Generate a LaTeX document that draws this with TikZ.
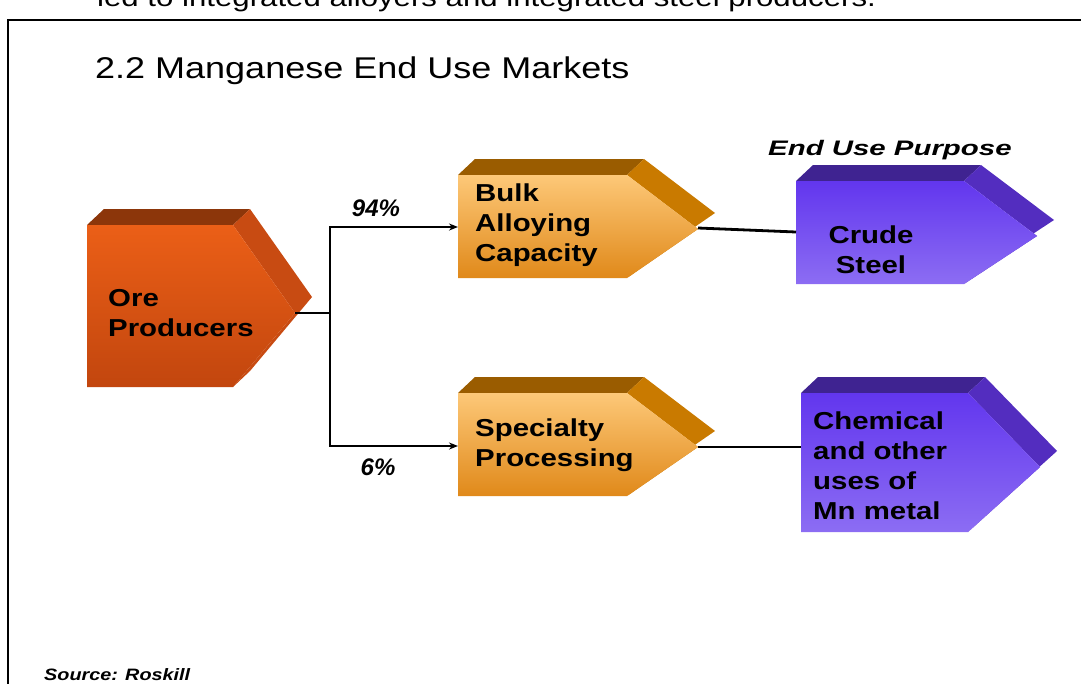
\documentclass[tikz,border=0pt]{standalone}
\usepackage{fontspec}
\usepackage{tikz}
\usetikzlibrary{arrows.meta}
\setmainfont[FakeStretch=1.2]{Liberation Sans}
\newfontfamily\pctfont{Liberation Sans}
\newfontfamily\headfont[FakeStretch=1.4]{Liberation Sans}

\definecolor{oreHi}{HTML}{EB5F17}
\definecolor{oreLo}{HTML}{C2460E}
\definecolor{oreTop}{HTML}{8C360A}
\definecolor{oreSide}{HTML}{C84B12}
\definecolor{ambHi}{HTML}{FDC878}
\definecolor{ambLo}{HTML}{E0891A}
\definecolor{ambTop}{HTML}{9A5C00}
\definecolor{ambSide}{HTML}{C97A00}
\definecolor{vioHi}{HTML}{6236EE}
\definecolor{vioLo}{HTML}{8C6DF3}
\definecolor{vioTop}{HTML}{3F2391}
\definecolor{vioSide}{HTML}{532DBF}

% 3d arrow block: name, colour, left, top, right, tip x, bottom, tip y, entry y
\newcommand{\slab}[9]{%
  \fill[#2Top] (#3,#4) -- (#3+17,#4-16) -- (#5+17,#4-16) -- (#5,#4) -- cycle;
  \fill[#2Side] (#5,#4) -- (#5+17,#4-16) -- (#6+17,#8-16) -- (#5+17,#7-16) -- (#5,#7) -- (#6,#8) -- cycle;
  \shade[top color=#2Hi,bottom color=#2Lo] (#3,#4) -- (#5,#4) -- (#6,#8) -- (#5,#7) -- (#3,#7) -- cycle;
  \coordinate (#1-tip) at (#6,#8);
  \coordinate (#1-in) at (#3,#9);
}

\begin{document}
\begin{tikzpicture}[x=1pt,y=-1pt,
  boxtext/.style={font=\fontsize{24.5}{30}\selectfont\bfseries,align=left,inner sep=0pt,anchor=west},
  pct/.style={font=\pctfont\fontsize{24}{28}\selectfont\bfseries\itshape,inner sep=0pt},
  link/.style={line width=2.3pt},
  thick link/.style={line width=2.8pt},
  arr/.style={-{Stealth[length=9pt,width=7pt]}}]
\useasboundingbox (0,0) rectangle (1081,683);
\draw[line width=2pt] (8,20) rectangle (1100,720);
\node[anchor=base west,inner sep=0pt,font=\fontsize{26}{30}\selectfont] (cut) at (97,6) {led to integrated alloyers and integrated steel producers.};
\node[anchor=base west,inner sep=0pt,font=\fontsize{30}{34}\selectfont] (title) at (95,78) {2.2 Manganese End Use Markets};

\slab{ore}{ore}{87}{225}{233}{295}{387}{313}{313}
\slab{bulk}{amb}{458}{175}{627}{698}{278}{229}{227}
\slab{spec}{amb}{458}{393}{627}{698}{496}{447}{446}
\slab{crude}{vio}{796}{181}{964}{1037}{284}{236}{232}
\slab{chem}{vio}{801}{393}{968}{1040}{532}{467}{447}

\node[boxtext] (oretext) at (108,313) {Ore\\Producers};
\node[boxtext] (bulktext) at (475,225) {Bulk\\Alloying\\Capacity};
\node[boxtext] (spectext) at (475,445) {Specialty\\Processing};
\node[boxtext,align=center,anchor=center] (crudetext) at (871,249.5) {Crude\\Steel};
\node[boxtext] (chemtext) at (813,465.5) {Chemical\\and other\\uses of\\Mn metal};

\node[anchor=base west,inner sep=0pt,font=\headfont\fontsize{21}{24}\selectfont\bfseries\itshape] (purpose) at (768,155) {End Use Purpose};
\node[pct] (p94) at (376,208) {94\%};
\node[pct] (p6) at (378,467) {6\%};
\node[anchor=base west,inner sep=0pt,font=\fontsize{16.5}{20}\selectfont\bfseries\itshape] (source) at (44,680) {Source: Roskill};

\coordinate (split) at (330,313);
\draw[link] (ore-tip) -- (split);
\draw[link,arr] (split) |- (bulk-in);
\draw[link,arr] (split) |- (spec-in);
\draw[thick link] ([yshift=1pt]bulk-tip) -- (crude-in);
\draw[thick link] (spec-tip) -- (chem-in);
\end{tikzpicture}
\end{document}
